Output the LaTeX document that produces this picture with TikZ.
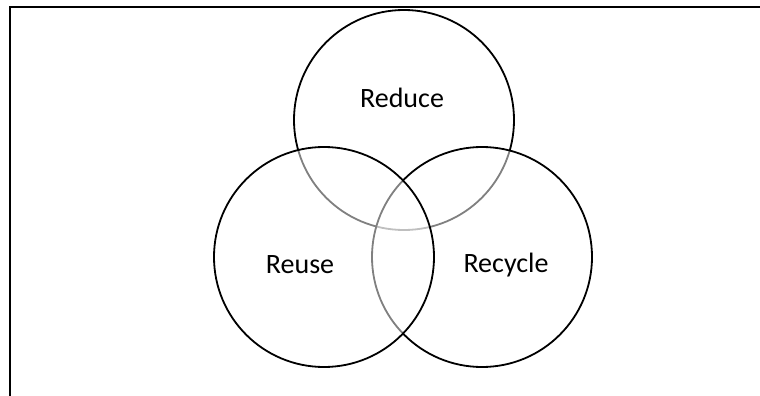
\documentclass[tikz,border=0pt]{standalone}
\usepackage{fontspec}
\setmainfont{Carlito}

\tikzset{
	ring/.style={circle, draw, line width=1.8pt, fill=white, fill opacity=0.5, minimum size=220pt, inner sep=0pt},
	word/.style={font=\fontsize{28}{34}\selectfont}
}

\begin{document}
\begin{tikzpicture}[x=1pt, y=-1pt]
			\useasboundingbox (0,0) rectangle (760,396);
			\clip (0,0) rectangle (760,396);
			\draw [line width=1.5pt](10,420) |- (780,7);

			\node [ring](reduce) at (404,120) {};
			\node [ring](recycle) at (482,257) {};
			\node [ring](reuse) at (324,257) {};

			\node [word](reducetext) at (402,98) {Reduce};
			\node [word](reusetext) at (300,265) {Reuse};
			\node [word](recycletext) at (506,265) {Recycle};

		\end{tikzpicture}
\end{document}
